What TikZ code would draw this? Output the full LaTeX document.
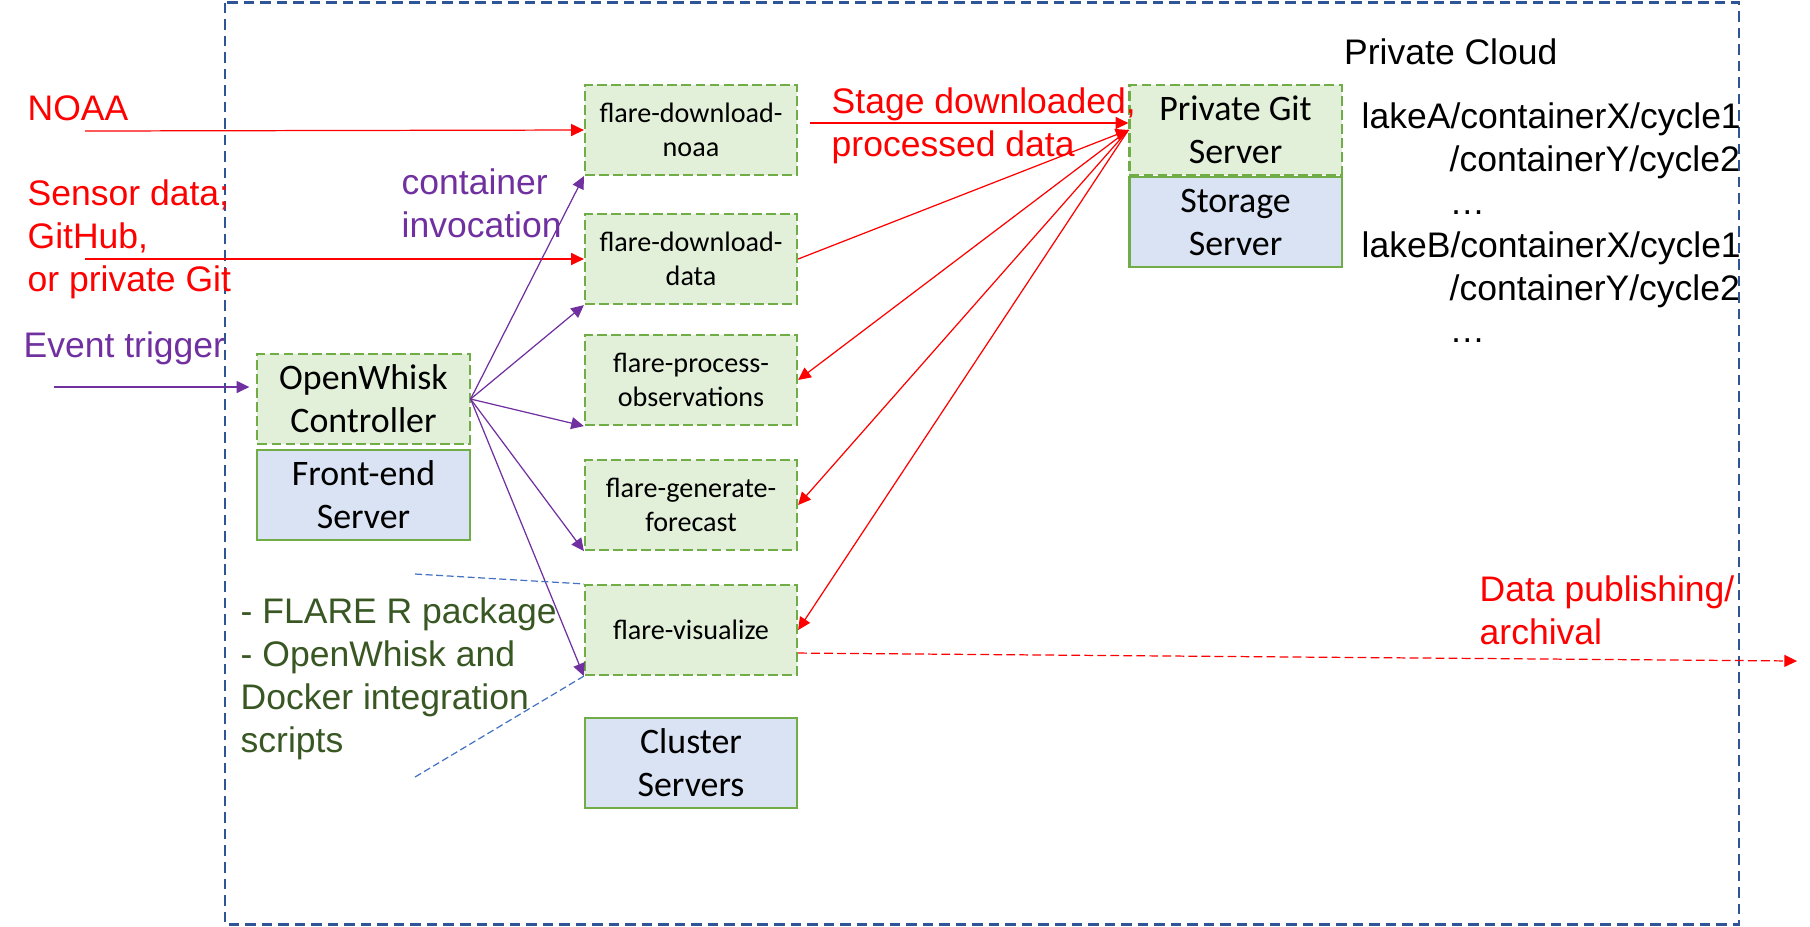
\documentclass[tikz,border=0pt]{standalone}
\usepackage{fontspec}
\setmainfont{Liberation Sans}
\newfontfamily\calibri{Carlito}
\usetikzlibrary{positioning, arrows.meta, calc}

\definecolor{cloudblue}{HTML}{2F5597}
\definecolor{boxgreen}{HTML}{70AD47}
\definecolor{lightgreen}{HTML}{E2F0D9}
\definecolor{lightblue}{HTML}{DAE3F3}
\definecolor{invpurple}{HTML}{7030A0}
\definecolor{pkggreen}{HTML}{385723}
\definecolor{hintblue}{HTML}{4472C4}

\begin{document}
\begin{tikzpicture}[
            x=0.01cm, y=-0.01cm,
            >={Triangle[length=3.6pt, width=3.4pt]},
            note/.style={inner sep=0pt, anchor=west, align=left, font=\fontsize{10.1}{12.2}\selectfont},
            flare/.style={draw=boxgreen, fill=lightgreen, line width=0.6pt, dash pattern=on 2.8pt off 1.2pt, minimum width=2.12cm, minimum height=0.9cm, inner sep=0pt, align=center, font=\calibri\fontsize{8}{9.6}\selectfont},
            ctl/.style={flare, font=\calibri\fontsize{10.2}{12.2}\selectfont},
            server/.style={ctl, solid, fill=lightblue},
            invoke/.style={->, draw=invpurple, line width=0.35pt},
            stage/.style={->, draw=red, line width=0.35pt},
            hint/.style={draw=hintblue, line width=0.35pt, dash pattern=on 2pt off 1pt},
        ]
            \useasboundingbox (0,0) rectangle (1810,926);

            % Draw the private cloud frame
            \draw[cloudblue, line width=0.7pt, dash pattern=on 3pt off 1.7pt] (225,2.5) rectangle (1739,924.5);

            % Draw the container boxes
            \foreach \name/\y/\txt in {noaa/130/{flare-download-\\noaa}, data/259/{flare-download-\\data}, process/380/{flare-process-\\observations}, forecast/505/{flare-generate-\\forecast}, vis/630/{flare-visualize}}
                \node[flare] (\name) at (691,\y) {\txt};
            \node[server] (cluster) at (691,763) {Cluster\\Servers};

            % Draw the servers
            \node[ctl] (ctl) at (363.5,399) {OpenWhisk\\Controller};
            \node[server, below=1pt of ctl] (frontend) {Front-end\\Server};
            \node[ctl] (git) at (1235.5,130) {Private Git\\Server};
            \node[server, below=0pt of git] (storage) {Storage\\Server};

            % Free ends of the connectors
            \coordinate (noaafrom) at (85,131);
            \coordinate (sensorfrom) at (85,259);
            \coordinate (eventfrom) at (54,387);
            \coordinate (stagefrom) at (810,123);
            \coordinate (archive) at (1797,661);
            \coordinate (hinttop) at (415,574);
            \coordinate (hintbottom) at (415,777);

            % Inputs
            \draw[stage] (noaafrom) -- (noaa.west);
            \draw[stage] (sensorfrom) -- (data.west);
            \draw[invoke, shorten >=2pt] (eventfrom) -- (eventfrom -| ctl.west);

            % Invoke every container from the controller
            \foreach \name in {noaa, data, process, forecast, vis}
                \draw[invoke] (ctl.east) -- (\name.south west);

            % Data staged through the git server
            \draw[stage] (stagefrom) -- (stagefrom -| git.west);
            \draw[stage] (data.east) -- (git.west);
            \foreach \name in {process, forecast, vis}
                \draw[stage] (git.west) -- (\name.east);
            \draw[stage, dash pattern=on 2.5pt off 1.2pt] ($(vis.east)!0.5!(vis.south east)$) -- (archive);

            \draw[hint] (hinttop) -- (vis.north west);
            \draw[hint] (hintbottom) -- (vis.south west);

            % Labels
            \node[note, text=red] (noaalbl) at (27,108) {NOAA};
            \node[note, text=red, anchor=north west] (sensorlbl) at (27,179) {Sensor data;\\GitHub,\\or private Git};
            \node[note, text=invpurple] (eventlbl) at (23,348) {Event trigger};
            \node[note, text=invpurple, anchor=north west] (invokelbl) at (401,168) {container\\invocation};
            \node[note, text=red, anchor=north west] (stagelbl) at (831,87) {Stage downloaded,\\processed data};
            \node[note] (cloudlbl) at (1343.5,52) {Private Cloud};
            \node[note, anchor=north west] (pathlbl) at (1361,102) {lakeA/containerX/cycle1\\\hspace*{25pt}/containerY/cycle2\\\hspace*{25pt}…\\lakeB/containerX/cycle1\\\hspace*{25pt}/containerY/cycle2\\\hspace*{25pt}…};
            \node[note, text=pkggreen, anchor=north west] (pkglbl) at (240,597) {- FLARE R package\\- OpenWhisk and\\Docker integration\\scripts};
            \node[note, text=red, anchor=north west] (publishlbl) at (1479,575) {Data publishing/\\archival};
        \end{tikzpicture}
\end{document}
